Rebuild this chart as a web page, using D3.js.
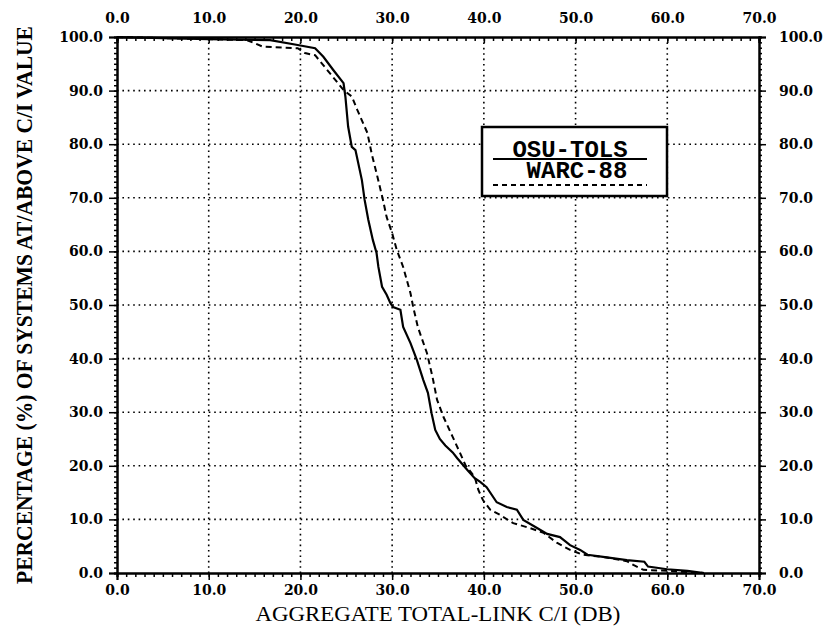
<!DOCTYPE html>
<html>
<head>
  <title>Aggregate Total-Link C/I</title>
  <script src="https://d3js.org/d3.v7.min.js"></script>
  <style>
    body { margin: 0; background: #fff; }
    .grid line { stroke: #000; stroke-width: 1.6; stroke-dasharray: 1.6,3.8; }
  </style>
</head>
<body>
  <svg width="828" height="630"></svg>

  <script>
    // C/I values (dB) and percentages
    const osuX = [0, 5, 10, 16.7, 19.7, 21.6, 22.5, 23.6, 24.7, 24.9, 25.2, 25.6, 26.0, 26.7, 27.0, 27.4, 27.9, 28.3, 28.5, 28.9, 29.4, 29.8, 30.1, 30.9, 31.2, 32.0, 32.7, 33.4, 33.9, 34.3, 34.7, 35.2, 35.8, 36.6, 37.1, 38.2, 39.0, 39.6, 40.3, 41.4, 42.5, 43.6, 44.3, 45.8, 46.9, 48.3, 49.4, 50.5, 51.3, 53.0, 55.6, 57.5, 57.9, 60.0, 62.2, 64.0];
    const osuY = [100, 99.8, 99.6, 99.4, 98.5, 97.9, 96.3, 93.8, 91.4, 88.9, 83.3, 79.5, 78.9, 73.3, 69.6, 65.9, 62.1, 59.7, 57.1, 53.4, 51.9, 50.4, 49.6, 49.1, 45.9, 42.9, 39.7, 36.0, 33.6, 29.8, 26.7, 25.0, 23.8, 22.5, 21.4, 19.2, 17.7, 17.0, 16.0, 13.2, 12.3, 11.8, 9.9, 8.4, 7.3, 6.7, 5.2, 4.3, 3.4, 3.0, 2.4, 2.1, 1.2, 0.7, 0.4, 0.0];

    const warcX = [0, 10, 14.2, 15.9, 19.7, 20.5, 21.6, 23.8, 24.7, 25.6, 26.2, 27.3, 27.8, 28.4, 29.0, 29.4, 30.0, 30.5, 31.2, 32.0, 32.3, 32.8, 33.8, 34.4, 34.9, 35.6, 36.6, 37.4, 38.0, 39.0, 39.4, 39.9, 40.7, 41.8, 43.2, 45.0, 46.5, 48.0, 49.4, 50.8, 53.0, 55.6, 56.3, 57.4, 60.0, 64.0];
    const warcY = [100, 99.6, 99.4, 98.2, 97.9, 97.0, 96.6, 92.0, 90.1, 88.9, 86.4, 82.1, 78.0, 73.9, 69.6, 66.4, 63.4, 60.3, 57.1, 52.2, 49.6, 45.9, 41.0, 36.6, 32.3, 29.1, 25.4, 22.4, 20.1, 17.9, 15.5, 13.6, 11.8, 10.8, 9.3, 8.4, 7.5, 5.6, 4.3, 3.4, 3.0, 2.2, 1.5, 0.6, 0.4, 0.0];

    const xTicks = [0, 10, 20, 30, 40, 50, 60, 70];
    const yTicks = [0, 10, 20, 30, 40, 50, 60, 70, 80, 90, 100];
    const seriesNames = ["OSU-TOLS", "WARC-88"];

    const svg = d3.select("svg");
    const margin = { top: 37, right: 69, bottom: 57, left: 117 };
    const innerWidth = 828 - margin.left - margin.right;
    const innerHeight = 630 - margin.top - margin.bottom;

    const x = d3.scaleLinear().domain([0, 70]).range([0, innerWidth]);
    const y = d3.scaleLinear().domain([0, 100]).range([innerHeight, 0]);

    const chart = svg.append("g")
      .attr("transform", `translate(${margin.left}, ${margin.top})`);

    // dotted grid
    const grid = chart.append("g").attr("class", "grid");
    grid.selectAll(".gx").data(xTicks.slice(1, -1)).enter().append("line")
      .attr("x1", d => x(d)).attr("x2", d => x(d))
      .attr("y1", 0).attr("y2", innerHeight);
    grid.selectAll(".gy").data(yTicks.slice(1, -1)).enter().append("line")
      .attr("x1", 0).attr("x2", innerWidth)
      .attr("y1", d => y(d)).attr("y2", d => y(d));

    const fmt = d3.format(".1f");
    const minorX = d3.range(0, 71, 1);
    const minorY = d3.range(0, 101, 1);

    function styleAxis(g) {
      g.select(".domain").attr("stroke-width", 2);
      g.selectAll(".tick line").attr("stroke-width", 1.5);
      g.selectAll(".tick text")
        .attr("font-family", "DejaVu Serif, serif")
        .attr("font-weight", "bold")
        .attr("font-size", 14);
    }

    // minor ticks (no labels)
    const minor = [
      chart.append("g").attr("transform", `translate(0, ${innerHeight})`)
        .call(d3.axisBottom(x).tickValues(minorX).tickSize(4)),
      chart.append("g")
        .call(d3.axisTop(x).tickValues(minorX).tickSize(-4)),
      chart.append("g")
        .call(d3.axisLeft(y).tickValues(minorY).tickSize(3)),
      chart.append("g").attr("transform", `translate(${innerWidth}, 0)`)
        .call(d3.axisRight(y).tickValues(minorY).tickSize(3))
    ];
    minor.forEach(g => { g.selectAll("text").remove(); styleAxis(g); });

    // major ticks with labels
    chart.append("g").attr("transform", `translate(0, ${innerHeight})`)
      .call(d3.axisBottom(x).tickValues(xTicks).tickSize(7).tickPadding(5).tickFormat(fmt))
      .call(styleAxis);
    chart.append("g")
      .call(d3.axisTop(x).tickValues(xTicks).tickSize(-6).tickPadding(14).tickFormat(fmt))
      .call(styleAxis);
    chart.append("g")
      .call(d3.axisLeft(y).tickValues(yTicks).tickSize(8).tickPadding(6).tickFormat(fmt))
      .call(styleAxis);
    chart.append("g").attr("transform", `translate(${innerWidth}, 0)`)
      .call(d3.axisRight(y).tickValues(yTicks).tickSize(7).tickPadding(13).tickFormat(fmt))
      .call(styleAxis);

    // curves
    const line = d3.line().x(d => x(d[0])).y(d => y(d[1]));
    chart.append("path")
      .datum(osuX.map((v, i) => [v, osuY[i]]))
      .attr("d", line).attr("fill", "none")
      .attr("stroke", "#000").attr("stroke-width", 2.2);
    chart.append("path")
      .datum(warcX.map((v, i) => [v, warcY[i]]))
      .attr("d", line).attr("fill", "none")
      .attr("stroke", "#000").attr("stroke-width", 2)
      .attr("stroke-dasharray", "6,4");

    // legend
    const lg = svg.append("g").attr("transform", "translate(482, 127)");
    lg.append("rect").attr("width", 185).attr("height", 69)
      .attr("fill", "#fff").attr("stroke", "#000").attr("stroke-width", 2.5);
    lg.append("text").attr("x", 88).attr("y", 30).attr("text-anchor", "middle")
      .attr("font-family", "Liberation Mono, monospace").attr("font-size", 24)
      .attr("font-weight", "bold").text(seriesNames[0]);
    lg.append("line").attr("x1", 11).attr("x2", 165).attr("y1", 32).attr("y2", 32)
      .attr("stroke", "#000").attr("stroke-width", 2);
    lg.append("text").attr("x", 95).attr("y", 51).attr("text-anchor", "middle")
      .attr("font-family", "Liberation Mono, monospace").attr("font-size", 24)
      .attr("font-weight", "bold").text(seriesNames[1]);
    lg.append("line").attr("x1", 11).attr("x2", 165).attr("y1", 58).attr("y2", 58)
      .attr("stroke", "#000").attr("stroke-width", 2).attr("stroke-dasharray", "5,4");

    // axis titles
    svg.append("text")
      .attr("x", margin.left + innerWidth / 2).attr("y", 621)
      .attr("text-anchor", "middle")
      .attr("font-family", "Liberation Serif, serif").attr("font-size", 21)
      .attr("textLength", 365).attr("lengthAdjust", "spacingAndGlyphs")
      .text("AGGREGATE TOTAL-LINK C/I (DB)");
    svg.append("text")
      .attr("transform", `translate(32, ${margin.top + innerHeight / 2}) rotate(-90)`)
      .attr("text-anchor", "middle")
      .attr("font-family", "Liberation Serif, serif").attr("font-size", 24)
      .attr("font-weight", "bold")
      .attr("textLength", 558).attr("lengthAdjust", "spacingAndGlyphs")
      .text("PERCENTAGE (%) OF SYSTEMS AT/ABOVE C/I VALUE");
  </script>
</body>
</html>
